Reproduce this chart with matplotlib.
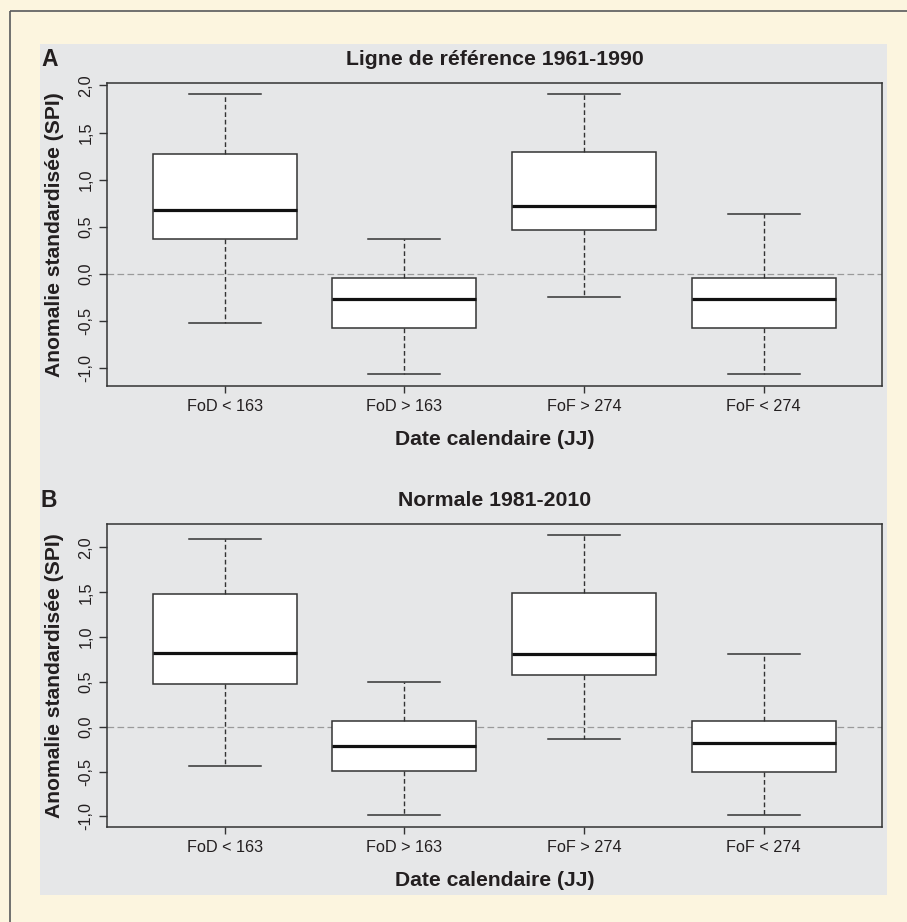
import matplotlib
matplotlib.use("Agg")
import matplotlib.pyplot as plt
from matplotlib.patches import Rectangle

plt.rcParams['font.family'] = ['Liberation Sans', 'DejaVu Sans']
plt.rcParams['lines.scale_dashes'] = False

# ---------------- data ----------------
groups = ["FoD < 163", "FoD > 163", "FoF > 274", "FoF < 274"]
yticks = [-1.0, -0.5, 0.0, 0.5, 1.0, 1.5, 2.0]
ytick_labels = ["-1,0", "-0,5", "0,0", "0,5", "1,0", "1,5", "2,0"]

title_a = "Ligne de référence 1961-1990"
whislo_a = [-0.52, -1.07, -0.245, -1.07]
q1_a = [0.365, -0.58, 0.468, -0.58]
med_a = [0.68, -0.27, 0.72, -0.27]
q3_a = [1.27, -0.04, 1.29, -0.04]
whishi_a = [1.91, 0.37, 1.91, 0.63]

title_b = "Normale 1981-2010"
whislo_b = [-0.44, -0.99, -0.14, -0.99]
q1_b = [0.48, -0.49, 0.58, -0.51]
med_b = [0.82, -0.21, 0.81, -0.18]
q3_b = [1.48, 0.06, 1.49, 0.06]
whishi_b = [2.10, 0.50, 2.14, 0.81]

ylabel = "Anomalie standardisée (SPI)"
xlabel = "Date calendaire (JJ)"

# ---------------- style ----------------
CREAM = "#FCF5DF"
PANEL = "#E6E7E8"
DARK = "#333333"
TXT = "#231F20"

W, H = 907, 922
fig = plt.figure(figsize=(W / 100, H / 100), dpi=100)
fig.patch.set_facecolor(CREAM)

# background layer
bg = fig.add_axes([0, 0, 1, 1], zorder=-5)
bg.set_xlim(0, W)
bg.set_ylim(H, 0)
bg.axis('off')
bg.add_patch(Rectangle((39.5, 44), 886.7 - 39.5, 895 - 44, facecolor=PANEL, edgecolor='none'))
bg.plot([10, W], [11.5, 11.5], color="#58595B", lw=1.2, solid_capstyle='butt')
bg.plot([10, 10], [11.5, H], color="#58595B", lw=1.2, solid_capstyle='butt')

left = 107.3 / W
width = (882.3 - 107.3) / W
ax_a = fig.add_axes([left, 1 - 385.7 / H, width, 303 / H])
ax_b = fig.add_axes([left, 1 - 826.7 / H, width, 303 / H])


def draw(ax, title, letter, lo, q1, med, q3, hi, title_y, xlab_y):
    stats = []
    for i in range(len(groups)):
        stats.append(dict(whislo=lo[i], q1=q1[i], med=med[i], q3=q3[i], whishi=hi[i],
                          fliers=[], label=groups[i]))
    ax.set_facecolor(PANEL)
    ax.axhline(0, color="#9A9A9A", lw=0.9, linestyle=(0, (4.8, 2.4)), zorder=1)
    ax.bxp(stats, positions=range(1, len(groups) + 1), widths=0.8, capwidths=0.4,
           patch_artist=True, showfliers=False,
           boxprops=dict(facecolor="white", edgecolor=DARK, lw=1.1),
           medianprops=dict(color="#111111", lw=2.3, solid_capstyle='butt'),
           whiskerprops=dict(color=DARK, lw=1.0, linestyle=(0, (3.4, 2.0))),
           capprops=dict(color=DARK, lw=1.1),
           zorder=2)
    dmin = min(lo)
    dmax = max(hi)
    pad = 0.04 * (dmax - dmin)
    ax.set_ylim(dmin - pad, dmax + pad)
    ax.set_xlim(0.347, 4.66)
    ax.set_yticks(yticks)
    ax.set_yticklabels(ytick_labels)
    ax.set_xticks(range(1, len(groups) + 1))
    ax.set_xticklabels(groups)
    ax.tick_params(axis='y', labelrotation=90, length=6, width=1.0, color=DARK,
                   labelsize=11.7, labelcolor=TXT, pad=4)
    for lab in ax.get_yticklabels():
        lab.set_va('center')
    ax.tick_params(axis='x', length=5.2, width=1.0, color=DARK,
                   labelsize=11.7, labelcolor=TXT, pad=4.5)
    for sp in ax.spines.values():
        sp.set_color(DARK)
        sp.set_linewidth(1.1)
    ax.set_ylabel(ylabel, fontsize=15.2, fontweight='bold', color=TXT)
    ax.yaxis.set_label_coords((55 - 107.3) / 775, 0.5)
    ax.yaxis.label.set_va('center')
    ax.set_xlabel(xlabel, fontsize=15.2, fontweight='bold', color=TXT)
    ax.xaxis.set_label_coords(0.5, xlab_y)
    ax.xaxis.label.set_va('center')
    fig.text(0.5 * (107.3 + 882.3) / W, title_y, title, ha='center', va='center',
             fontsize=15.3, fontweight='bold', color=TXT)
    fig.text(41 / W, title_y, letter, ha='left', va='center',
             fontsize=16.5, fontweight='bold', color=TXT)


draw(ax_a, title_a, "A", whislo_a, q1_a, med_a, q3_a, whishi_a, 1 - 59.5 / H, -0.179)
draw(ax_b, title_b, "B", whislo_b, q1_b, med_b, q3_b, whishi_b, 1 - 500 / H, -0.176)

fig.savefig("out.png", dpi=100, facecolor=CREAM)
